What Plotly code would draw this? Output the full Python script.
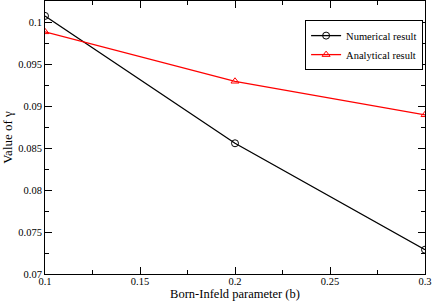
import plotly.graph_objects as go

b_values = [0.1, 0.2, 0.3]
numerical = [0.1008, 0.0856, 0.0729]
analytical = [0.0989, 0.0930, 0.0890]
x_ticks = [0.1, 0.15, 0.2, 0.25, 0.3]
x_tick_labels = ["0.1", "0.15", "0.2", "0.25", "0.3"]
y_ticks = [0.07, 0.075, 0.08, 0.085, 0.09, 0.095, 0.1]
y_tick_labels = ["0.07", "0.075", "0.08", "0.085", "0.09", "0.095", "0.1"]

font = "Liberation Serif, Times New Roman, Times, serif"

fig = go.Figure()
fig.add_trace(go.Scatter(
    x=b_values, y=numerical, mode="lines+markers", name="Numerical result",
    line=dict(color="black", width=1.3),
    marker=dict(symbol="circle-open", size=7, color="black", line=dict(width=1)),
))
fig.add_trace(go.Scatter(
    x=b_values, y=analytical, mode="lines+markers", name="Analytical result",
    line=dict(color="red", width=1.3),
    marker=dict(symbol="triangle-up-open", size=7, color="red", line=dict(width=1)),
))

axis_common = dict(
    showline=True, linecolor="black", linewidth=1, mirror="ticks",
    ticks="inside", ticklen=7, tickwidth=1, tickcolor="black",
    showgrid=False, zeroline=False, automargin=False,
    tickfont=dict(family=font, size=10.5, color="black"),
)

fig.update_xaxes(
    range=[0.1, 0.3], tickvals=x_ticks, ticktext=x_tick_labels,
    minor=dict(dtick=0.025, ticks="inside", ticklen=4, tickcolor="black", tick0=0.1),
    title=dict(text="Born-Infeld parameter (b)", font=dict(family=font, size=12.5, color="black"), standoff=0),
    ticklabelstandoff=-3,
    **axis_common,
)
fig.update_yaxes(
    range=[0.07, 0.10258], tickvals=y_ticks, ticktext=y_tick_labels,
    minor=dict(dtick=0.0025, ticks="inside", ticklen=4, tickcolor="black", tick0=0.07),
    title=dict(text="Value of γ", font=dict(family=font, size=13, color="black"), standoff=4),
    **axis_common,
)

fig.update_layout(
    width=436, height=302,
    margin=dict(l=45, r=11, t=1, b=28),
    paper_bgcolor="white", plot_bgcolor="white",
    showlegend=True,
    legend=dict(
        x=0.995, y=0.93, xanchor="right", yanchor="top",
        bgcolor="white", bordercolor="black", borderwidth=1,
        font=dict(family=font, size=10.5, color="black"),
        itemwidth=30, tracegroupgap=0,
    ),
)

fig.write_html("out.html", config={"displayModeBar": False},
               post_script="document.body.style.margin='0';")
